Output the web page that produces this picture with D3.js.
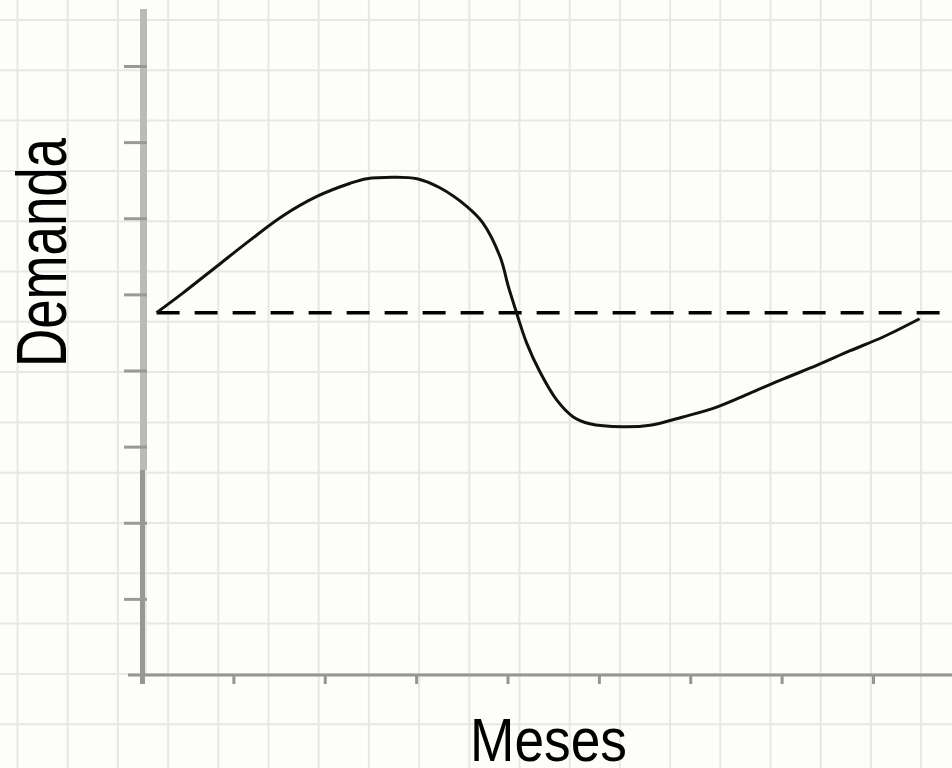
<!DOCTYPE html>
<html>
<head>
<meta charset="utf-8">
<script src="https://cdn.jsdelivr.net/npm/d3@7"></script>
<style>
  html, body { margin: 0; padding: 0; background: #fdfdf9; }
  svg { display: block; }
</style>
</head>
<body>
<svg id="chart"></svg>
<script>
var width = 952;
var height = 768;

// curve (months, demand)
var months = [0.16, 0.45, 0.82, 1.18, 1.54, 1.92, 2.28, 2.46, 2.75, 3.01, 3.26, 3.56, 3.73, 3.92, 4.01, 4.08, 4.21, 4.36, 4.54, 4.72, 4.90, 5.26, 5.56, 5.92, 6.29, 6.65, 7.02, 7.39, 7.75, 8.11, 8.51];
var demand = [4.76, 5.02, 5.37, 5.71, 6.03, 6.29, 6.46, 6.52, 6.54, 6.52, 6.40, 6.15, 5.94, 5.49, 5.10, 4.83, 4.36, 3.97, 3.61, 3.39, 3.30, 3.26, 3.28, 3.39, 3.52, 3.70, 3.89, 4.07, 4.26, 4.44, 4.68];
var average = 4.76;
var averageFrom = 0.16;
var averageTo = 9.2;
var xTicks = [0, 1, 2, 3, 4, 5, 6, 7, 8];
var yTicks = [1, 2, 3, 4, 5, 6, 7, 8];

var svg = d3.select('#chart')
  .attr('width', width)
  .attr('height', height);

var x = d3.scaleLinear().domain([0, 8]).range([142, 873]);
var y = d3.scaleLinear().domain([0, 8]).range([675, 66]);

// paper grid behind the chart
var grid = svg.append('g').attr('stroke', '#e7e7e3').attr('stroke-width', 2);
grid.selectAll('line.v')
  .data(d3.range(17.5, width, 50.2))
  .enter().append('line')
  .attr('class', 'v')
  .attr('x1', function(d) { return d; })
  .attr('x2', function(d) { return d; })
  .attr('y1', 0)
  .attr('y2', height);
grid.selectAll('line.h')
  .data(d3.range(20, height, 50.3))
  .enter().append('line')
  .attr('class', 'h')
  .attr('x1', 0)
  .attr('x2', width)
  .attr('y1', function(d) { return d; })
  .attr('y2', function(d) { return d; });

// y axis: two-tone bar like the scan
svg.append('line')
  .attr('x1', 143.5).attr('x2', 143.5)
  .attr('y1', 9).attr('y2', 470)
  .attr('stroke', '#bababa').attr('stroke-width', 7);
svg.append('line')
  .attr('x1', 142.5).attr('x2', 142.5)
  .attr('y1', 470).attr('y2', 684)
  .attr('stroke', '#979797').attr('stroke-width', 5);
svg.append('line')
  .attr('x1', 146).attr('x2', 146)
  .attr('y1', 470).attr('y2', 676)
  .attr('stroke', '#e8e8e8').attr('stroke-width', 2);

var yAxis = svg.append('g')
  .attr('transform', 'translate(147,0)')
  .call(d3.axisLeft(y).tickValues(yTicks).tickSize(23).tickFormat(''));
yAxis.select('.domain').remove();
yAxis.selectAll('.tick line').attr('stroke', '#999').attr('stroke-width', 3);

// x axis
svg.append('line')
  .attr('x1', 128).attr('x2', width)
  .attr('y1', 675).attr('y2', 675)
  .attr('stroke', '#959595').attr('stroke-width', 3);

var xAxis = svg.append('g')
  .attr('transform', 'translate(0,675)')
  .call(d3.axisBottom(x).tickValues(xTicks).tickSize(9).tickFormat(''));
xAxis.select('.domain').remove();
xAxis.selectAll('.tick line').attr('stroke', '#959595').attr('stroke-width', 3);

// average demand (dashed)
svg.append('line')
  .attr('x1', x(averageFrom)).attr('x2', x(averageTo))
  .attr('y1', y(average)).attr('y2', y(average))
  .attr('stroke', '#000')
  .attr('stroke-width', 3.5)
  .attr('stroke-dasharray', '23,15');

// demand curve
var points = months.map(function(m, i) { return [m, demand[i]]; });
var line = d3.line()
  .x(function(d) { return x(d[0]); })
  .y(function(d) { return y(d[1]); })
  .curve(d3.curveCatmullRom.alpha(0.5));

svg.append('path')
  .datum(points)
  .attr('fill', 'none')
  .attr('stroke', '#111')
  .attr('stroke-width', 3)
  .attr('d', line);

// axis titles
svg.append('text')
  .attr('transform', 'translate(66,252.5) rotate(-90)')
  .attr('text-anchor', 'middle')
  .attr('font-family', 'Liberation Sans, Arial, sans-serif')
  .attr('font-size', 71)
  .attr('textLength', 229)
  .attr('lengthAdjust', 'spacingAndGlyphs')
  .attr('fill', '#000')
  .text('Demanda');

svg.append('text')
  .attr('x', 548.5)
  .attr('y', 761)
  .attr('text-anchor', 'middle')
  .attr('font-family', 'Liberation Sans, Arial, sans-serif')
  .attr('font-size', 62)
  .attr('textLength', 157)
  .attr('lengthAdjust', 'spacingAndGlyphs')
  .attr('fill', '#000')
  .text('Meses');
</script>
</body>
</html>
